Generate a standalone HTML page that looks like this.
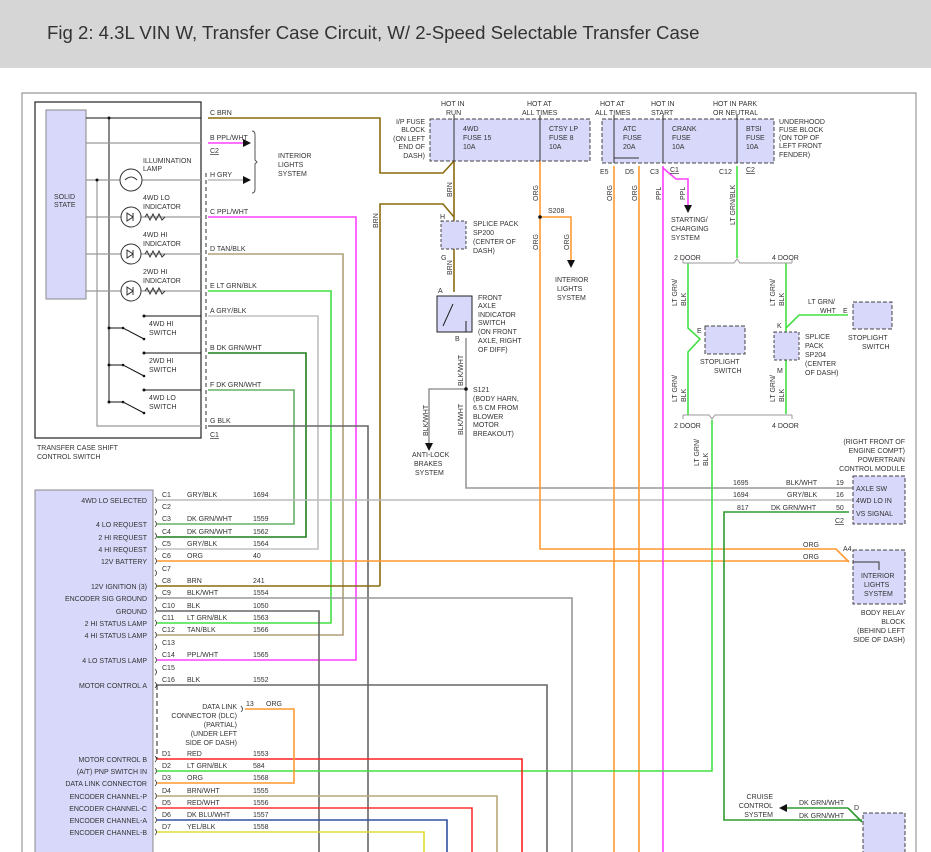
<!DOCTYPE html>
<html><head><meta charset="utf-8"><style>
body{margin:0;background:#fff}
svg{display:block;font-family:"Liberation Sans",sans-serif}
text{font-size:7px;fill:#333}
.t{font-size:18.6px;fill:#333}
</style></head><body>
<svg width="931" height="852" viewBox="0 0 931 852" xmlns="http://www.w3.org/2000/svg">
<rect x="0" y="0" width="931" height="68" fill="#d6d6d6"/>
<text class="t" x="47" y="39">Fig 2: 4.3L VIN W, Transfer Case Circuit, W/ 2-Speed Selectable Transfer Case</text>
<path d="M22 852V93H916V852" fill="none" stroke="#999" stroke-width="1.2"/>

<!-- Transfer case switch -->
<rect x="35" y="102" width="166" height="336" fill="none" stroke="#222" stroke-width="1.2"/>
<rect x="46" y="110" width="40" height="189" fill="#d8d8fa" stroke="#888"/>
<text x="54" y="199">SOLID</text><text x="54" y="207">STATE</text>
<g stroke="#111" fill="none">
<path d="M86 118H201M109 118V402M144 316H201M144 353H201M144 390H201"/>
<path d="M109 328H123L144 339M109 365H123L144 376M109 402H123L144 413"/>
</g>
<g stroke="#999" fill="none" stroke-width="1.2">
<path d="M86 143H201M86 180H201M86 217H201M86 254H201M86 291H201M97 180V426H201"/>
</g>
<g fill="#111"><circle cx="109" cy="118" r="1.5"/><circle cx="97" cy="180" r="1.5"/><circle cx="109" cy="328" r="1.5"/><circle cx="109" cy="365" r="1.5"/><circle cx="109" cy="402" r="1.5"/><circle cx="144" cy="316" r="1.5"/><circle cx="144" cy="353" r="1.5"/><circle cx="144" cy="390" r="1.5"/><circle cx="123" cy="328" r="1.3"/><circle cx="123" cy="365" r="1.3"/><circle cx="123" cy="402" r="1.3"/><circle cx="144" cy="339" r="1.3"/><circle cx="144" cy="376" r="1.3"/><circle cx="144" cy="413" r="1.3"/></g>
<g fill="#fff" stroke="#333">
<circle cx="131" cy="180" r="11"/><circle cx="131" cy="217" r="10"/><circle cx="131" cy="254" r="10"/><circle cx="131" cy="291" r="10"/>
</g>
<g stroke="#333" fill="none">
<path d="M125 180q6-6 12 0"/>
<path d="M127 213l6 4-6 4zM133 213v8M127 250l6 4-6 4zM133 250v8M127 287l6 4-6 4zM133 287v8"/>
<path d="M145 217l2-3 3 6 3-6 3 6 3-6 3 6 3-3M145 254l2-3 3 6 3-6 3 6 3-6 3 6 3-3M145 291l2-3 3 6 3-6 3 6 3-6 3 6 3-3"/>
</g>
<text x="143" y="163">ILLUMINATION</text><text x="143" y="171">LAMP</text>
<text x="143" y="200">4WD LO</text><text x="143" y="209">INDICATOR</text>
<text x="143" y="237">4WD HI</text><text x="143" y="246">INDICATOR</text>
<text x="143" y="274">2WD HI</text><text x="143" y="283">INDICATOR</text>
<text x="149" y="326">4WD HI</text><text x="149" y="335">SWITCH</text>
<text x="149" y="363">2WD HI</text><text x="149" y="372">SWITCH</text>
<text x="149" y="400">4WD LO</text><text x="149" y="409">SWITCH</text>
<text x="37" y="450">TRANSFER CASE SHIFT</text><text x="37" y="459">CONTROL SWITCH</text>
<path d="M206 173V432" stroke="#333" stroke-dasharray="4 3"/>
<g font-size="7">
<text x="210" y="115">C  BRN</text><text x="210" y="140">B  PPL/WHT</text><text x="210" y="153" text-decoration="underline">C2</text>
<text x="210" y="177">H  GRY</text><text x="210" y="214">C  PPL/WHT</text><text x="210" y="251">D  TAN/BLK</text>
<text x="210" y="288">E  LT GRN/BLK</text><text x="210" y="313">A  GRY/BLK</text><text x="210" y="350">B  DK GRN/WHT</text>
<text x="210" y="387">F  DK GRN/WHT</text><text x="210" y="423">G  BLK</text><text x="210" y="437" text-decoration="underline">C1</text>
</g>
<path d="M208 143H243" stroke="#ff40ff" stroke-width="1.6"/><path d="M243 139l8 4-8 4z" fill="#111"/>
<path d="M208 180H243" stroke="#bbb" stroke-width="1.6"/><path d="M243 176l8 4-8 4z" fill="#111"/>
<path d="M252 131q3 0 3 4v25l2 2-2 2v25q0 4-3 4" fill="none" stroke="#555"/>
<text x="278" y="158">INTERIOR</text><text x="278" y="167">LIGHTS</text><text x="278" y="176">SYSTEM</text>

<!-- wires -->
<g fill="none" stroke-width="1.6">
<path d="M208 118H380V173H443L454 161" stroke="#8a6a10"/>
<path d="M380 586V204H443L454 217" stroke="#8a6a10"/>
<path d="M454 161V221M454 249V292" stroke="#8a6a10"/>
<path d="M208 217H356V660H157" stroke="#ff40ff"/>
<path d="M208 254H343V635H157" stroke="#b0a078"/>
<path d="M208 291H331V623H157" stroke="#44e044"/>
<path d="M208 316H318V549H157" stroke="#c0c0c0"/>
<path d="M208 353H306V537H157" stroke="#1e7e1e"/>
<path d="M208 390H294V524H157" stroke="#66b066"/>
<path d="M208 426H368V852" stroke="#666"/>
<path d="M157 586H380" stroke="#8a6a10"/>
<path d="M157 611H319V852" stroke="#666"/>
<path d="M157 598H572V852" stroke="#999"/>
<path d="M157 685H547V852" stroke="#666"/>
<path d="M157 500H853" stroke="#bbb"/>
<path d="M466 338V488H853" stroke="#999"/>
<path d="M466 389H429V443" stroke="#999"/>
<path d="M157 561H849" stroke="#ff9933"/>
<path d="M540 161V549H836L849 562" stroke="#ff9933"/>
<path d="M540 217H571V260" stroke="#ff9933"/>
<path d="M614 166V852M639 166V852" stroke="#ff9933"/>
<path d="M663 166V852" stroke="#ff40ff"/>
<path d="M663 168L676 179H688V205" stroke="#ff40ff"/>
<path d="M737 166V258" stroke="#44e044"/>
<path d="M688 263V328L700 339L688 352V415M786 263V414M786 328L799 315H848" stroke="#44e044"/>
<path d="M712 420V771H157" stroke="#44e044"/>
<path d="M849 512H724V820H862M848 808H787M848 808L862 822" stroke="#2e9a2e"/>
<path d="M157 759H522V852" stroke="#ff2020"/>
<path d="M245 709H294V783H157" stroke="#ff9933"/>
<path d="M157 796H497V852" stroke="#b8a878"/>
<path d="M157 808H472V852" stroke="#ff3030"/>
<path d="M157 820H447V852" stroke="#3050a0"/>
<path d="M157 832H424V852" stroke="#dddd30"/>
</g>
<path d="M425 443l4 8 4-8zM567 260l4 8 4-8zM684 205l4 8 4-8z" fill="#111"/>
<path d="M787 804l-8 4 8 4z" fill="#111"/>
<circle cx="540" cy="217" r="1.8" fill="#111"/><circle cx="466" cy="389" r="1.8" fill="#111"/>
<path d="M683 263H734l3-4 3 4H792M683 259v4M792 259v4M683 415H709l3 4 3-4H792M683 419v-4M792 419v-4" fill="none" stroke="#999"/>

<!-- Fuse blocks -->
<text x="441" y="106">HOT IN</text><text x="446" y="115">RUN</text>
<text x="527" y="106">HOT AT</text><text x="522" y="115">ALL TIMES</text>
<text x="600" y="106">HOT AT</text><text x="595" y="115">ALL TIMES</text>
<text x="651" y="106">HOT IN</text><text x="651" y="115">START</text>
<text x="713" y="106">HOT IN PARK</text><text x="713" y="115">OR NEUTRAL</text>
<rect x="430" y="119" width="160" height="42" fill="#d8d8fa" stroke="#444" stroke-dasharray="4 2"/>
<rect x="602" y="119" width="172" height="44" fill="#d8d8fa" stroke="#444" stroke-dasharray="4 2"/>
<g stroke="#333" fill="none"><path d="M454 115V161M540 115V161M614 115V163M663 115V163M737 115V163"/></g>
<text x="463" y="131">4WD</text><text x="463" y="140">FUSE 15</text><text x="463" y="149">10A</text>
<text x="549" y="131">CTSY LP</text><text x="549" y="140">FUSE 8</text><text x="549" y="149">10A</text>
<text x="623" y="131">ATC</text><text x="623" y="140">FUSE</text><text x="623" y="149">20A</text>
<text x="672" y="131">CRANK</text><text x="672" y="140">FUSE</text><text x="672" y="149">10A</text>
<text x="746" y="131">BTSI</text><text x="746" y="140">FUSE</text><text x="746" y="149">10A</text>
<g text-anchor="end"><text x="425" y="124">I/P FUSE</text><text x="425" y="132">BLOCK</text><text x="425" y="141">(ON LEFT</text><text x="425" y="149">END OF</text><text x="425" y="158">DASH)</text></g>
<text x="779" y="124">UNDERHOOD</text><text x="779" y="132">FUSE BLOCK</text><text x="779" y="140">(ON TOP OF</text><text x="779" y="148">LEFT FRONT</text><text x="779" y="157">FENDER)</text>
<text x="600" y="174">E5</text><text x="625" y="174">D5</text><text x="650" y="174">C3</text><text x="670" y="172" text-decoration="underline">C1</text><text x="719" y="174">C12</text><text x="746" y="172" text-decoration="underline">C2</text>
<path d="M614 152V158H639" stroke="#333" fill="none"/>
<g transform="rotate(-90)"><text x="-197" y="452">BRN</text><text x="-275" y="452">BRN</text><text x="-228" y="378">BRN</text>
<text x="-201" y="538">ORG</text><text x="-250" y="538">ORG</text><text x="-250" y="569">ORG</text>
<text x="-201" y="612">ORG</text><text x="-201" y="637">ORG</text><text x="-200" y="661">PPL</text><text x="-200" y="685">PPL</text>
<text x="-225" y="735">LT GRN/BLK</text>
<text x="-306" y="677">LT GRN/</text><text x="-306" y="686">BLK</text><text x="-306" y="775">LT GRN/</text><text x="-306" y="784">BLK</text>
<text x="-402" y="677">LT GRN/</text><text x="-402" y="686">BLK</text><text x="-402" y="775">LT GRN/</text><text x="-402" y="784">BLK</text>
<text x="-466" y="699">LT GRN/</text><text x="-466" y="708">BLK</text>
<text x="-386" y="463">BLK/WHT</text><text x="-435" y="463">BLK/WHT</text><text x="-436" y="428">BLK/WHT</text></g>
<text x="548" y="213">S208</text>
<text x="555" y="282">INTERIOR</text><text x="557" y="291">LIGHTS</text><text x="557" y="300">SYSTEM</text>
<text x="671" y="222">STARTING/</text><text x="671" y="231">CHARGING</text><text x="671" y="240">SYSTEM</text>
<text x="674" y="260">2 DOOR</text><text x="772" y="260">4 DOOR</text><text x="674" y="428">2 DOOR</text><text x="772" y="428">4 DOOR</text>

<rect x="441" y="221" width="25" height="28" fill="#d8d8fa" stroke="#444" stroke-dasharray="3 2"/>
<text x="440" y="219">H</text><text x="441" y="260">G</text>
<text x="473" y="226">SPLICE PACK</text><text x="473" y="235">SP200</text><text x="473" y="244">(CENTER OF</text><text x="473" y="253">DASH)</text>
<rect x="437" y="296" width="35" height="36" fill="#d8d8fa" stroke="#222"/>
<path d="M443 326L453 304M466 321v11" stroke="#222"/>
<text x="438" y="293">A</text><text x="455" y="341">B</text>
<text x="478" y="300">FRONT</text><text x="478" y="308">AXLE</text><text x="478" y="317">INDICATOR</text><text x="478" y="325">SWITCH</text><text x="478" y="334">(ON FRONT</text><text x="478" y="343">AXLE, RIGHT</text><text x="478" y="352">OF DIFF)</text>
<text x="473" y="392">S121</text><text x="473" y="401">(BODY HARN,</text><text x="473" y="410">6.5 CM FROM</text><text x="473" y="419">BLOWER</text><text x="473" y="427">MOTOR</text><text x="473" y="436">BREAKOUT)</text>
<text x="412" y="457">ANTI-LOCK</text><text x="414" y="466">BRAKES</text><text x="415" y="475">SYSTEM</text>

<rect x="705" y="326" width="40" height="28" fill="#d8d8fa" stroke="#444" stroke-dasharray="4 2"/>
<text x="697" y="333">E</text><text x="700" y="364">STOPLIGHT</text><text x="714" y="373">SWITCH</text>
<rect x="774" y="332" width="25" height="28" fill="#d8d8fa" stroke="#444" stroke-dasharray="3 2"/>
<text x="777" y="328">K</text><text x="777" y="373">M</text>
<text x="805" y="339">SPLICE</text><text x="805" y="348">PACK</text><text x="805" y="357">SP204</text><text x="805" y="366">(CENTER</text><text x="805" y="375">OF DASH)</text>
<text x="808" y="304">LT GRN/</text><text x="820" y="313">WHT</text><text x="843" y="313">E</text>
<rect x="853" y="302" width="39" height="27" fill="#d8d8fa" stroke="#444" stroke-dasharray="4 2"/>
<text x="848" y="340">STOPLIGHT</text><text x="862" y="349">SWITCH</text>

<!-- PCM -->
<g text-anchor="end"><text x="905" y="444">(RIGHT FRONT OF</text><text x="905" y="453">ENGINE COMPT)</text><text x="905" y="462">POWERTRAIN</text><text x="905" y="471">CONTROL MODULE</text>
<text x="905" y="615">BODY RELAY</text><text x="905" y="624">BLOCK</text><text x="905" y="633">(BEHIND LEFT</text><text x="905" y="642">SIDE OF DASH)</text>
<text x="773" y="799">CRUISE</text><text x="773" y="808">CONTROL</text><text x="773" y="817">SYSTEM</text></g>
<rect x="853" y="476" width="52" height="48" fill="#d8d8fa" stroke="#444" stroke-dasharray="4 2"/>
<text x="856" y="491">AXLE SW</text><text x="856" y="503">4WD LO IN</text><text x="856" y="516">VS SIGNAL</text>
<text x="733" y="485">1695</text><text x="786" y="485">BLK/WHT</text><text x="836" y="485">19</text>
<text x="733" y="497">1694</text><text x="787" y="497">GRY/BLK</text><text x="836" y="497">16</text>
<text x="737" y="510">817</text><text x="771" y="510">DK GRN/WHT</text><text x="836" y="510">50</text>
<text x="835" y="523" text-decoration="underline">C2</text>
<text x="803" y="547">ORG</text><text x="803" y="559">ORG</text><text x="843" y="551">A4</text>
<rect x="853" y="550" width="52" height="54" fill="#d8d8fa" stroke="#444" stroke-dasharray="4 2"/>
<text x="861" y="578">INTERIOR</text><text x="864" y="587">LIGHTS</text><text x="864" y="596">SYSTEM</text>
<path d="M853 562H879V570" stroke="#333" fill="none"/>
<text x="799" y="805">DK GRN/WHT</text><text x="799" y="818">DK GRN/WHT</text><text x="854" y="810">D</text>
<rect x="863" y="813" width="42" height="45" fill="#d8d8fa" stroke="#444" stroke-dasharray="4 2"/>

<!-- Transfer case module -->
<rect x="35" y="490" width="118" height="370" fill="#d8d8fa" stroke="#888"/>
<path d="M157 685V759" stroke="#222" stroke-dasharray="5 3"/>
<g text-anchor="end">
<text x="147" y="503">4WD LO SELECTED</text><text x="147" y="527">4 LO REQUEST</text><text x="147" y="540">2 HI REQUEST</text><text x="147" y="552">4 HI REQUEST</text><text x="147" y="564">12V BATTERY</text>
<text x="147" y="589">12V IGNITION (3)</text><text x="147" y="601">ENCODER SIG GROUND</text><text x="147" y="614">GROUND</text><text x="147" y="626">2 HI STATUS LAMP</text><text x="147" y="638">4 HI STATUS LAMP</text>
<text x="147" y="663">4 LO STATUS LAMP</text><text x="147" y="688">MOTOR CONTROL A</text><text x="147" y="762">MOTOR CONTROL B</text><text x="147" y="774">(A/T) PNP SWITCH IN</text>
<text x="147" y="786">DATA LINK CONNECTOR</text><text x="147" y="799">ENCODER CHANNEL-P</text><text x="147" y="811">ENCODER CHANNEL-C</text><text x="147" y="823">ENCODER CHANNEL-A</text><text x="147" y="835">ENCODER CHANNEL-B</text>
<text x="237" y="709">DATA LINK</text><text x="237" y="718">CONNECTOR (DLC)</text><text x="237" y="727">(PARTIAL)</text><text x="237" y="736">(UNDER LEFT</text><text x="237" y="745">SIDE OF DASH)</text>
</g>
<text x="246" y="706">13</text><text x="266" y="706">ORG</text>
<g>
<text x="162" y="497">C1</text><text x="187" y="497">GRY/BLK</text><text x="253" y="497">1694</text>
<text x="162" y="509">C2</text>
<text x="162" y="521">C3</text><text x="187" y="521">DK GRN/WHT</text><text x="253" y="521">1559</text>
<text x="162" y="534">C4</text><text x="187" y="534">DK GRN/WHT</text><text x="253" y="534">1562</text>
<text x="162" y="546">C5</text><text x="187" y="546">GRY/BLK</text><text x="253" y="546">1564</text>
<text x="162" y="558">C6</text><text x="187" y="558">ORG</text><text x="253" y="558">40</text>
<text x="162" y="571">C7</text>
<text x="162" y="583">C8</text><text x="187" y="583">BRN</text><text x="253" y="583">241</text>
<text x="162" y="595">C9</text><text x="187" y="595">BLK/WHT</text><text x="253" y="595">1554</text>
<text x="162" y="608">C10</text><text x="187" y="608">BLK</text><text x="253" y="608">1050</text>
<text x="162" y="620">C11</text><text x="187" y="620">LT GRN/BLK</text><text x="253" y="620">1563</text>
<text x="162" y="632">C12</text><text x="187" y="632">TAN/BLK</text><text x="253" y="632">1566</text>
<text x="162" y="645">C13</text>
<text x="162" y="657">C14</text><text x="187" y="657">PPL/WHT</text><text x="253" y="657">1565</text>
<text x="162" y="670">C15</text>
<text x="162" y="682">C16</text><text x="187" y="682">BLK</text><text x="253" y="682">1552</text>
<text x="162" y="756">D1</text><text x="187" y="756">RED</text><text x="253" y="756">1553</text>
<text x="162" y="768">D2</text><text x="187" y="768">LT GRN/BLK</text><text x="253" y="768">584</text>
<text x="162" y="780">D3</text><text x="187" y="780">ORG</text><text x="253" y="780">1568</text>
<text x="162" y="793">D4</text><text x="187" y="793">BRN/WHT</text><text x="253" y="793">1555</text>
<text x="162" y="805">D5</text><text x="187" y="805">RED/WHT</text><text x="253" y="805">1556</text>
<text x="162" y="817">D6</text><text x="187" y="817">DK BLU/WHT</text><text x="253" y="817">1557</text>
<text x="162" y="829">D7</text><text x="187" y="829">YEL/BLK</text><text x="253" y="829">1558</text>
</g>
<g fill="none" stroke="#333" stroke-width="0.8">
<path d="M155 497q3 3 0 6M155 509q3 3 0 6M155 521q3 3 0 6M155 533q3 3 0 6M155 546q3 3 0 6M155 558q3 3 0 6M155 570q3 3 0 6M155 583q3 3 0 6M155 595q3 3 0 6M155 607q3 3 0 6M155 620q3 3 0 6M155 632q3 3 0 6M155 644q3 3 0 6M155 657q3 3 0 6M155 669q3 3 0 6M155 682q3 3 0 6"/>
<path d="M155 756q3 3 0 6M155 768q3 3 0 6M155 780q3 3 0 6M155 793q3 3 0 6M155 805q3 3 0 6M155 817q3 3 0 6M155 829q3 3 0 6M241 706q3 3 0 6"/>
</g>
</svg>
</body></html>
